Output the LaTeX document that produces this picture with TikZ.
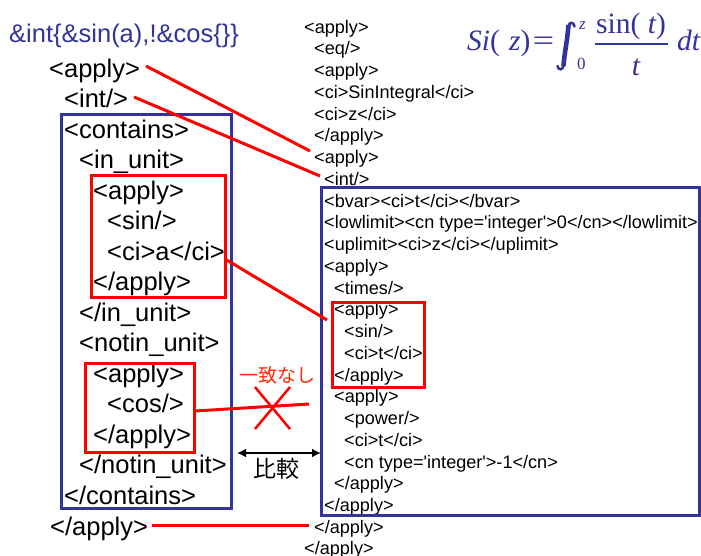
\documentclass[tikz,border=0pt]{standalone}
\usepackage{graphicx}
\usepackage{fontspec}
\setmainfont{Liberation Sans}
\newfontfamily\jpfont{Noto Sans CJK JP}
\newfontfamily\serif{Liberation Serif}
\usetikzlibrary{arrows.meta}
\definecolor{navy}{RGB}{51,51,153}
\definecolor{mark}{RGB}{255,0,0}
\definecolor{note}{RGB}{255,40,0}
\newcommand{\sq}{\textquotesingle}

\begin{document}
\begin{tikzpicture}[x=1pt,y=-1pt,
  big/.style={anchor=base west, inner sep=0pt, font=\fontsize{25.5}{30}\selectfont},
  small/.style={anchor=base west, inner sep=0pt, font=\fontsize{18.1}{21}\selectfont},
  frame/.style={rectangle, anchor=north west, inner sep=0pt, outer sep=0pt, line width=3pt},
  bluebox/.style={frame, draw=navy},
  redbox/.style={frame, draw=mark},
  link/.style={draw=mark, line width=3pt},
  formula/.style={text=navy, inner sep=0pt, font=\serif\fontsize{29.5}{32}\selectfont},
  limit/.style={text=navy, inner sep=0pt, font=\serif\fontsize{17}{18}\selectfont},
]
\useasboundingbox (0,0) rectangle (701,555);

% query expression
\node[big, text=navy] (query) at (9,42) {\&int\{\&sin(a),!\&cos\{\}\}};

% query tree (left column)
\node[big] (la0)  at (49,77)    {<apply>};
\node[big] (la1)  at (64,107.5) {<int/>};
\node[big] (la2)  at (64,138.1) {<contains>};
\node[big] (la3)  at (79,168.6) {<in\_unit>};
\node[big] (la4)  at (93,199.1) {<apply>};
\node[big] (la5)  at (107,229.7){<sin/>};
\node[big] (la6)  at (107,260.2){<ci>a</ci>};
\node[big] (la7)  at (93,290.7) {</apply>};
\node[big] (la8)  at (79,321.2) {</in\_unit>};
\node[big] (la9)  at (79,351.8) {<notin\_unit>};
\node[big] (la10) at (93,382.3) {<apply>};
\node[big] (la11) at (107,412.8){<cos/>};
\node[big] (la12) at (93,443.4) {</apply>};
\node[big] (la13) at (79,473.9) {</notin\_unit>};
\node[big] (la14) at (64,504.4) {</contains>};
\node[big] (la15) at (50,535)   {</apply>};

% document MathML (right column)
\node[small] (ra0)  at (304,33)     {<apply>};
\node[small] (ra1)  at (314,54.75)  {<eq/>};
\node[small] (ra2)  at (314,76.5)   {<apply>};
\node[small] (ra3)  at (314,98.25)  {<ci>SinIntegral</ci>};
\node[small] (ra4)  at (314,120)    {<ci>z</ci>};
\node[small] (ra5)  at (314,141.75) {</apply>};
\node[small] (ra6)  at (314,163.5)  {<apply>};
\node[small] (ra7)  at (324,185.25) {<int/>};
\node[small] (ra8)  at (324,207)    {<bvar><ci>t</ci></bvar>};
\node[small] (ra9)  at (324,228.75) {<lowlimit><cn type=\sq integer\sq>0</cn></lowlimit>};
\node[small] (ra10) at (324,250.5)  {<uplimit><ci>z</ci></uplimit>};
\node[small] (ra11) at (324,272.25) {<apply>};
\node[small] (ra12) at (334,294)    {<times/>};
\node[small] (ra13) at (334,315.75) {<apply>};
\node[small] (ra14) at (344,337.5)  {<sin/>};
\node[small] (ra15) at (344,359.25) {<ci>t</ci>};
\node[small] (ra16) at (334,381)    {</apply>};
\node[small] (ra17) at (334,402.75) {<apply>};
\node[small] (ra18) at (344,424.5)  {<power/>};
\node[small] (ra19) at (344,446.25) {<ci>t</ci>};
\node[small] (ra20) at (344,468)    {<cn type=\sq integer\sq>-1</cn>};
\node[small] (ra21) at (334,489.75) {</apply>};
\node[small] (ra22) at (324,511.5)  {</apply>};
\node[small] (ra23) at (314,533.25) {</apply>};
\node[small] (ra24) at (304,554)    {</apply>};

% formula  Si(z) = int_0^z sin(t)/t dt
\node[formula, anchor=base west] (fsi) at (467,50) {\itshape Si\upshape(};
\node[formula, anchor=base west] (fz)  at (509,50) {\itshape z\upshape)};
\node[formula, anchor=base] (feq) at (543.5,50) {\scalebox{1.3}[1]{=}};
% heavy integral sign
\draw[navy, line width=2.6pt, line cap=round] (574.5,26.5) .. controls (574,22) and (569.5,21.5) .. (568.5,26);
\draw[navy, line width=4.6pt] (568.5,25) .. controls (567.5,40) and (564.5,52) .. (563.5,66);
\draw[navy, line width=2.6pt, line cap=round] (563.8,65) .. controls (563,70.5) and (558,70.5) .. (557.5,66);
\node[limit, anchor=base west] (fup) at (579,29) {\itshape z};
\node[limit, anchor=base west] (flow) at (577,69) {0};
\node[formula, anchor=base] (fnum) at (631,33) {sin( \itshape t\upshape)};
\node[formula, anchor=base] (fden) at (636,75) {\itshape t};
\draw[navy, line width=1.8pt] (595,44) -- (668,44);
\node[formula, anchor=base west] (fdt) at (677,50) {\itshape dt};

% frames
\node[bluebox, minimum width=170, minimum height=394] (lbox)  at (61,114) {};
\node[redbox,  minimum width=134, minimum height=122] (lred1) at (91,175) {};
\node[redbox,  minimum width=109, minimum height=89]  (lred2) at (85,363) {};
\node[bluebox, minimum width=378.5, minimum height=328] (rbox) at (321,187) {};
\node[redbox,  minimum width=92, minimum height=85]  (rred)  at (332,302) {};

% connector end points
\coordinate (e0) at (310,151);
\coordinate (e1) at (320,176);
\coordinate (e2) at (327,320);
\coordinate (e3) at (309,404);
\coordinate (e4) at (309,525);
\coordinate (s0) at (146,66);
\coordinate (s1) at (134,97);
\coordinate (s2) at (225,259);
\coordinate (s3) at (195,411);
\coordinate (s4) at (152,525);

\draw[link] (s0) -- (e0);
\draw[link] (s1) -- (e1);
\draw[link] (s2) -- (e2);
\draw[link] (s3) -- (e3);
\draw[link] (s4) -- (e4);

% mismatch mark
\coordinate (x0) at (272.5,408);
\draw[link, line width=2.5pt] ([shift={(-17.5,-21)}]x0) -- ([shift={(17.5,21)}]x0);
\draw[link, line width=2.5pt] ([shift={(17.5,-21)}]x0) -- ([shift={(-17.5,21)}]x0);
\node[text=note, font=\jpfont\fontsize{19}{22}\selectfont, inner sep=0pt] (nomatch) at (277,375) {一致なし};

% comparison arrow
\coordinate (c0) at (237,453);
\draw[{Latex[length=9pt,width=9pt]}-{Latex[length=9pt,width=9pt]}, line width=2.5pt] (c0) -- (rbox.west |- c0);
\node[font=\jpfont\fontsize{23}{26}\selectfont, inner sep=0pt] (compare) at (276,469) {比較};
\end{tikzpicture}
\end{document}
